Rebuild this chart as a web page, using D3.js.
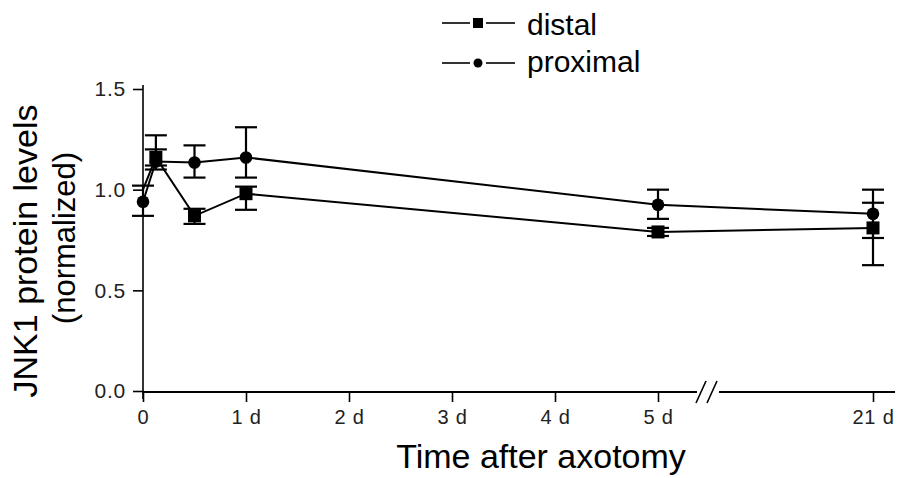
<!DOCTYPE html>
<html>
<head>
<meta charset="utf-8">
<script src="https://cdn.jsdelivr.net/npm/d3@7"></script>
<style>
  html, body { margin: 0; padding: 0; background: #fff; }
  svg { display: block; font-family: "Liberation Sans", Arial, Helvetica, sans-serif; }
</style>
</head>
<body>
<svg id="chart" width="903" height="478"></svg>
<script>
// ---- data ----
const timesDays = [0, 0.125, 0.5, 1, 5, 21];
const xTickValues = [0, 1, 2, 3, 4, 5, 21];
const xTickLabels = ["0", "1 d", "2 d", "3 d", "4 d", "5 d", "21 d"];
const yTickValues = [0, 0.5, 1.0, 1.5];

const distalMean  = [1.00, 1.16, 0.87, 0.98, 0.79, 0.81];
const distalUpper = [1.00, 1.20, 0.905, 1.015, 0.81, 0.935];
const distalLower = [1.00, 1.12, 0.83, 0.90, 0.77, 0.625];
const distalMarker = [false, true, true, true, true, true];

const proximalMean  = [0.94, 1.14, 1.135, 1.16, 0.925, 0.88];
const proximalUpper = [1.02, 1.27, 1.22, 1.31, 1.00, 1.00];
const proximalLower = [0.87, 1.10, 1.06, 1.06, 0.855, 0.76];
const proximalMarker = [true, true, true, true, true, true];

const seriesNames = ["distal", "proximal"];
const yTitleLines = ["JNK1 protein levels", "(normalized)"];
const xTitle = "Time after axotomy";

// ---- scales ----
const svg = d3.select("#chart");
const x = d3.scaleLinear().domain([0, 5, 21]).range([143, 658, 873]);
const y = d3.scaleLinear().domain([0, 1.5]).range([391, 89]);

// ---- y axis ----
const yAxisG = svg.append("g").attr("transform", "translate(143,0)")
  .call(d3.axisLeft(y).tickValues(yTickValues).tickFormat(d3.format(".1f")).tickSize(10).tickPadding(7));
yAxisG.select(".domain").remove();
yAxisG.selectAll(".tick line").attr("stroke", "#000").attr("stroke-width", 1.6);
yAxisG.selectAll(".tick text").attr("font-size", 21).attr("fill", "#222")
  .attr("font-family", "Liberation Sans, Arial, sans-serif").attr("letter-spacing", 0.8);
svg.append("line").attr("x1", 143).attr("x2", 143).attr("y1", 85).attr("y2", 399)
  .attr("stroke", "#000").attr("stroke-width", 1.6);

// ---- x axis (with break) ----
const xAxisG = svg.append("g").attr("transform", "translate(0,392)")
  .call(d3.axisBottom(x).tickValues(xTickValues).tickFormat((d, i) => xTickLabels[i]).tickSize(10).tickPadding(8));
xAxisG.select(".domain").remove();
xAxisG.selectAll(".tick line").attr("stroke", "#000").attr("stroke-width", 1.6);
xAxisG.selectAll(".tick text").attr("font-size", 20).attr("fill", "#222")
  .attr("font-family", "Liberation Sans, Arial, sans-serif").attr("letter-spacing", 0.8);
const breakL = 697, breakR = 719;
svg.append("line").attr("x1", 143).attr("x2", breakL).attr("y1", 392).attr("y2", 392)
  .attr("stroke", "#000").attr("stroke-width", 2);
svg.append("line").attr("x1", breakR).attr("x2", 895).attr("y1", 392).attr("y2", 392)
  .attr("stroke", "#000").attr("stroke-width", 2);
[[696, 706], [707, 717]].forEach(([a, b]) => {
  svg.append("line").attr("x1", a).attr("y1", 403).attr("x2", b).attr("y2", 381)
    .attr("stroke", "#000").attr("stroke-width", 1.6);
});

// ---- series ----
function drawSeries(mean, upper, lower, markers, shape) {
  const pts = timesDays.map((t, i) => ({ t, m: mean[i], u: upper[i], l: lower[i], mk: markers[i] }));
  svg.append("path").datum(pts)
    .attr("d", d3.line().x(d => x(d.t)).y(d => y(d.m)))
    .attr("fill", "none").attr("stroke", "#000").attr("stroke-width", 2);
  const eb = svg.append("g").attr("stroke", "#000").attr("stroke-width", 2.2);
  pts.forEach(d => {
    if (d.u === d.l) return;
    const cx = x(d.t);
    eb.append("line").attr("x1", cx).attr("x2", cx).attr("y1", y(d.u)).attr("y2", y(d.l));
    eb.append("line").attr("x1", cx - 11).attr("x2", cx + 11).attr("y1", y(d.u)).attr("y2", y(d.u));
    eb.append("line").attr("x1", cx - 11).attr("x2", cx + 11).attr("y1", y(d.l)).attr("y2", y(d.l));
  });
  const mk = pts.filter(d => d.mk);
  if (shape === "square") {
    svg.append("g").selectAll("rect").data(mk).join("rect")
      .attr("x", d => x(d.t) - 6.5).attr("y", d => y(d.m) - 6.5)
      .attr("width", 13).attr("height", 13).attr("fill", "#000");
  } else {
    svg.append("g").selectAll("circle").data(mk).join("circle")
      .attr("cx", d => x(d.t)).attr("cy", d => y(d.m)).attr("r", 6.3).attr("fill", "#000");
  }
}
drawSeries(proximalMean, proximalUpper, proximalLower, proximalMarker, "circle");
drawSeries(distalMean, distalUpper, distalLower, distalMarker, "square");

// ---- legend ----
const legendRows = [{ name: seriesNames[0], shape: "square", ly: 23, ty: 35 },
                    { name: seriesNames[1], shape: "circle", ly: 63, ty: 72 }];
const lg = svg.append("g");
legendRows.forEach(r => {
  lg.append("line").attr("x1", 442).attr("x2", 470).attr("y1", r.ly).attr("y2", r.ly)
    .attr("stroke", "#000").attr("stroke-width", 1.6);
  lg.append("line").attr("x1", 486).attr("x2", 515).attr("y1", r.ly).attr("y2", r.ly)
    .attr("stroke", "#000").attr("stroke-width", 1.6);
  if (r.shape === "square") {
    lg.append("rect").attr("x", 473).attr("y", r.ly - 5).attr("width", 10).attr("height", 10).attr("fill", "#000");
  } else {
    lg.append("circle").attr("cx", 478).attr("cy", r.ly).attr("r", 4.5).attr("fill", "#000");
  }
  lg.append("text").attr("x", 527).attr("y", r.ty).attr("font-size", 30).attr("fill", "#000").text(r.name);
});

// ---- axis titles ----
svg.append("text").attr("transform", "translate(37,251) rotate(-90)")
  .attr("text-anchor", "middle").attr("font-size", 34).attr("fill", "#000").text(yTitleLines[0]);
svg.append("text").attr("transform", "translate(75,238) rotate(-90)")
  .attr("text-anchor", "middle").attr("font-size", 31).attr("fill", "#000").text(yTitleLines[1]);
svg.append("text").attr("x", 541).attr("y", 468)
  .attr("text-anchor", "middle").attr("font-size", 34).attr("fill", "#000").text(xTitle);
</script>
</body>
</html>
